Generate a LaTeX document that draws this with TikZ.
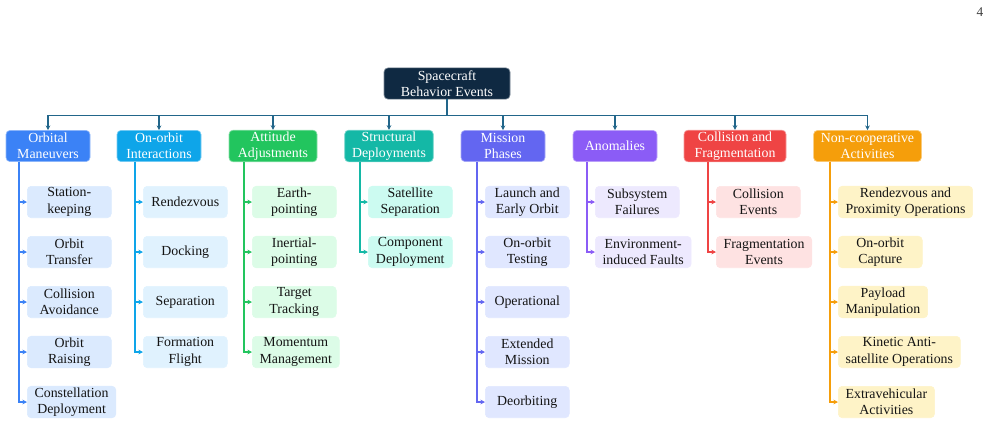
\documentclass[tikz,border=0pt]{standalone}
\usepackage{fontspec}
\setmainfont{Liberation Serif}
\usepackage{xcolor}
\usepackage{tikz}
\usetikzlibrary{arrows.meta,positioning}
\definecolor{cRoot}{HTML}{0F2942}
\definecolor{cBus}{HTML}{22668A}
\definecolor{cText}{HTML}{141414}
\definecolor{cOM}{HTML}{3B82F6}\definecolor{lOM}{HTML}{DBEAFE}
\definecolor{cOI}{HTML}{0EA5E9}\definecolor{lOI}{HTML}{E0F2FE}
\definecolor{cAA}{HTML}{22C55E}\definecolor{lAA}{HTML}{DCFCE7}
\definecolor{cSD}{HTML}{14B8A6}\definecolor{lSD}{HTML}{CCFBF1}
\definecolor{cMP}{HTML}{6366F1}\definecolor{lMP}{HTML}{E0E7FF}
\definecolor{cAN}{HTML}{8B5CF6}\definecolor{lAN}{HTML}{EDE9FE}
\definecolor{cCF}{HTML}{EF4444}\definecolor{lCF}{HTML}{FEE2E2}
\definecolor{cNC}{HTML}{F59E0B}\definecolor{lNC}{HTML}{FEF3C7}
\tikzset{
  rootbox/.style={rectangle, rounded corners=3pt, fill=cRoot, draw=cRoot!55!white, line width=0.5pt, text=white, align=center, minimum width=94.5pt, minimum height=23.4pt, inner xsep=5pt, inner ysep=1pt},
  catbox/.style={rectangle, rounded corners=3pt, fill=#1, draw=#1!55!white, line width=0.5pt, text=white, align=center, minimum width=63pt, minimum height=23.4pt, inner xsep=5.5pt, inner ysep=1pt},
  leafbox/.style={rectangle, rounded corners=3pt, fill=#1, draw=#1, line width=0.4pt, text=cText, align=center, minimum width=63pt, minimum height=23.6pt, inner xsep=5.5pt, inner ysep=1pt, anchor=west},
  busline/.style={draw=cBus, line width=1.2pt, -{Stealth[length=3.5pt,width=3.5pt]}},
  trunkline/.style={draw=#1, line width=1pt, -{Stealth[length=3.5pt,width=3.5pt]}},
  pagenum/.style={text=black!75, font=\fontsize{10}{12}\selectfont}
}
\begin{document}
\begin{tikzpicture}[x=0.75pt, y=-0.75pt, font=\fontsize{10.4}{12.3}\selectfont]
\useasboundingbox (0,0) rectangle (992,426);
\node[pagenum] (page) at (980,12) {4};
\node[rootbox] (root) at (447,83.5) {Spacecraft\\Behavior Events};
% categories
\node[catbox=cOM] (om) at (48,146) {Orbital\\Maneuvers};
\node[catbox=cOI] (oi) at (159,146) {On-orbit\\Interactions};
\node[catbox=cAA, minimum width=66pt] (aa) at (273,146) {Attitude\\Adjustments};
\node[catbox=cSD, minimum width=66pt] (sd) at (389,146) {Structural\\Deployments};
\node[catbox=cMP] (mp) at (503,146) {Mission\\Phases};
\node[catbox=cAN] (an) at (615,146) {Anomalies};
\node[catbox=cCF, minimum width=76.5pt] (cf) at (735,146) {Collision and\\Fragmentation};
\node[catbox=cNC] (nc) at (867.5,146) {Non-cooperative\\Activities};
% trunk positions
\coordinate (tom) at (19,0);
\coordinate (toi) at (135,0);
\coordinate (taa) at (244,0);
\coordinate (tsd) at (360,0);
\coordinate (tmp) at (477,0);
\coordinate (tan) at (587,0);
\coordinate (tcf) at (708,0);
\coordinate (tnc) at (830,0);
% leaves
\node[leafbox=lOM] (om1) at (27,202) {Station-\\keeping};
\node[leafbox=lOM] (om2) at (27,252) {Orbit\\Transfer};
\node[leafbox=lOM] (om3) at (27,302) {Collision\\Avoidance};
\node[leafbox=lOM] (om4) at (27,352) {Orbit\\Raising};
\node[leafbox=lOM] (om5) at (27,402) {Constellation\\Deployment};
\node[leafbox=lOI] (oi1) at (143,202) {Rendezvous};
\node[leafbox=lOI] (oi2) at (143,252) {Docking};
\node[leafbox=lOI] (oi3) at (143,302) {Separation};
\node[leafbox=lOI] (oi4) at (143,352) {Formation\\Flight};
\node[leafbox=lAA] (aa1) at (252,202) {Earth-\\pointing};
\node[leafbox=lAA] (aa2) at (252,252) {Inertial-\\pointing};
\node[leafbox=lAA] (aa3) at (252,302) {Target\\Tracking};
\node[leafbox=lAA] (aa4) at (252,352) {Momentum\\Management};
\node[leafbox=lSD] (sd1) at (368,202) {Satellite\\Separation};
\node[leafbox=lSD] (sd2) at (368,252) {Component\\Deployment};
\node[leafbox=lMP] (mp1) at (485,202) {Launch and\\Early Orbit};
\node[leafbox=lMP] (mp2) at (485,252) {On-orbit\\Testing};
\node[leafbox=lMP] (mp3) at (485,302) {Operational};
\node[leafbox=lMP] (mp4) at (485,352) {Extended\\Mission};
\node[leafbox=lMP] (mp5) at (485,402) {Deorbiting};
\node[leafbox=lAN] (an1) at (595,202) {Subsystem\\Failures};
\node[leafbox=lAN] (an2) at (595,252) {Environment-\\induced Faults};
\node[leafbox=lCF] (cf1) at (716,202) {Collision\\Events};
\node[leafbox=lCF] (cf2) at (716,252) {Fragmentation\\Events};
\node[leafbox=lNC] (nc1) at (838,202) {Rendezvous and\\Proximity Operations};
\node[leafbox=lNC] (nc2) at (838,252) {On-orbit\\Capture};
\node[leafbox=lNC] (nc3) at (838,302) {Payload\\Manipulation};
\node[leafbox=lNC] (nc4) at (838,352) {Kinetic Anti-\\satellite Operations};
\node[leafbox=lNC] (nc5) at (838,402) {Extravehicular\\Activities};
% root to categories
\foreach \c in {om,oi,aa,sd,mp,an,cf,nc}
  \draw[busline] (root.south) -- ++(0,16) -| (\c);
% categories to leaves
\foreach \l in {om1,om2,om3,om4,om5} \draw[trunkline=cOM] (om.south -| tom) |- (\l);
\foreach \l in {oi1,oi2,oi3,oi4} \draw[trunkline=cOI] (oi.south -| toi) |- (\l);
\foreach \l in {aa1,aa2,aa3,aa4} \draw[trunkline=cAA] (aa.south -| taa) |- (\l);
\foreach \l in {sd1,sd2} \draw[trunkline=cSD] (sd.south -| tsd) |- (\l);
\foreach \l in {mp1,mp2,mp3,mp4,mp5} \draw[trunkline=cMP] (mp.south -| tmp) |- (\l);
\foreach \l in {an1,an2} \draw[trunkline=cAN] (an.south -| tan) |- (\l);
\foreach \l in {cf1,cf2} \draw[trunkline=cCF] (cf.south -| tcf) |- (\l);
\foreach \l in {nc1,nc2,nc3,nc4,nc5} \draw[trunkline=cNC] (nc.south -| tnc) |- (\l);
\end{tikzpicture}
\end{document}
